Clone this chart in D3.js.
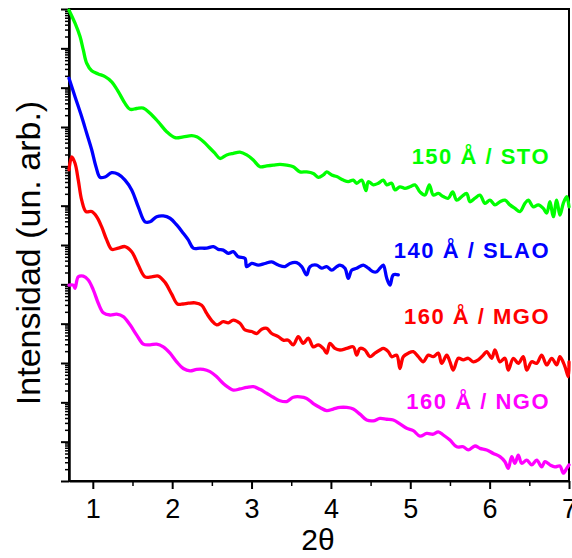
<!DOCTYPE html>
<html>
<head>
<meta charset="UTF-8" />
<title>XRR</title>
<style>
  body { margin: 0; background: #fff; }
  svg { display: block; font-family: Arial, "Liberation Sans", sans-serif; }
</style>
</head>
<body>
<svg width="572" height="558"></svg>
<script src="https://d3js.org/d3.v7.min.js"></script>
<script>
// each series: [2theta, log10(intensity)]
const sto = [[0.7,11.97],[0.776,11.64],[0.839,11.30],[0.880,10.96],[0.923,10.62],[0.986,10.43],[1.069,10.35],[1.154,10.28],[1.238,10.15],[1.321,9.90],[1.406,9.60],[1.469,9.45],[1.553,9.47],[1.636,9.48],[1.721,9.35],[1.825,9.13],[1.931,8.88],[2.036,8.73],[2.140,8.75],[2.246,8.78],[2.309,8.75],[2.392,8.63],[2.477,8.46],[2.540,8.33],[2.602,8.20],[2.687,8.29],[2.770,8.33],[2.854,8.36],[2.939,8.29],[3.022,8.16],[3.106,7.99],[3.191,8.01],[3.274,8.03],[3.358,8.05],[3.443,8.03],[3.526,7.99],[3.610,7.86],[3.695,7.86],[3.778,7.82],[3.841,7.72],[3.904,7.78],[3.947,7.86],[4.010,7.78],[4.073,7.74],[4.156,7.65],[4.219,7.61],[4.282,7.65],[4.325,7.57],[4.388,7.65],[4.442,7.38],[4.471,7.61],[4.534,7.53],[4.597,7.57],[4.660,7.65],[4.703,7.53],[4.766,7.57],[4.807,7.40],[4.870,7.48],[4.933,7.44],[4.996,7.48],[5.059,7.53],[5.122,7.35],[5.185,7.27],[5.240,7.53],[5.290,7.27],[5.353,7.31],[5.416,7.23],[5.479,7.19],[5.534,7.35],[5.585,7.14],[5.648,7.23],[5.711,7.31],[5.752,7.10],[5.815,7.19],[5.878,7.27],[5.941,7.06],[6.004,7.14],[6.067,7.02],[6.130,7.10],[6.193,7.14],[6.256,7.02],[6.319,6.93],[6.382,6.85],[6.445,7.06],[6.487,7.14],[6.550,6.97],[6.613,7.02],[6.676,6.93],[6.719,6.81],[6.760,7.10],[6.802,6.72],[6.845,7.14],[6.886,6.76],[6.928,7.06],[6.971,7.23],[7.0,6.97]];

const slao = [[0.7,10.24],[0.776,9.77],[0.860,9.26],[0.923,8.84],[0.986,8.42],[1.040,7.99],[1.091,7.72],[1.154,7.73],[1.238,7.84],[1.321,7.80],[1.406,7.65],[1.490,7.40],[1.573,6.97],[1.658,6.59],[1.721,6.59],[1.805,6.72],[1.888,6.74],[1.973,6.68],[2.057,6.51],[2.140,6.30],[2.203,6.13],[2.266,5.92],[2.350,5.92],[2.435,5.92],[2.518,5.96],[2.581,5.89],[2.644,5.87],[2.707,5.79],[2.770,5.83],[2.833,5.70],[2.917,5.66],[2.939,5.45],[3.002,5.53],[3.085,5.49],[3.169,5.53],[3.254,5.57],[3.337,5.49],[3.421,5.45],[3.484,5.53],[3.569,5.55],[3.632,5.45],[3.695,5.24],[3.736,5.45],[3.821,5.49],[3.884,5.41],[3.947,5.45],[4.010,5.36],[4.073,5.45],[4.114,5.49],[4.177,5.41],[4.219,5.15],[4.262,5.36],[4.325,5.41],[4.408,5.49],[4.471,5.41],[4.534,5.32],[4.577,5.32],[4.618,5.41],[4.660,5.49],[4.703,5.16],[4.744,4.98],[4.786,5.24],[4.849,5.24]];

const mgo = [[0.7,7.91],[0.734,8.24],[0.776,8.08],[0.817,7.65],[0.860,7.14],[0.914,6.85],[0.986,6.85],[1.049,6.72],[1.112,6.46],[1.175,6.13],[1.238,5.89],[1.321,5.92],[1.406,5.96],[1.490,5.83],[1.573,5.49],[1.658,5.19],[1.742,5.19],[1.825,5.21],[1.910,5.05],[1.994,4.75],[2.067,4.50],[2.136,4.50],[2.203,4.52],[2.288,4.53],[2.372,4.47],[2.435,4.26],[2.498,4.08],[2.561,3.97],[2.644,4.05],[2.707,4.02],[2.770,4.09],[2.854,4.01],[2.917,3.84],[3.002,3.80],[3.065,3.75],[3.128,3.86],[3.191,3.88],[3.254,3.75],[3.337,3.67],[3.400,3.58],[3.463,3.58],[3.526,3.46],[3.589,3.67],[3.652,3.50],[3.715,3.63],[3.778,3.41],[3.841,3.46],[3.904,3.37],[3.947,3.25],[3.988,3.50],[4.051,3.37],[4.114,3.33],[4.199,3.37],[4.282,3.41],[4.325,3.20],[4.366,3.37],[4.429,3.33],[4.492,3.16],[4.555,3.25],[4.618,3.33],[4.660,3.37],[4.723,3.29],[4.766,3.16],[4.829,3.20],[4.870,2.86],[4.912,3.16],[4.975,3.25],[5.038,3.29],[5.101,3.16],[5.164,3.03],[5.227,3.20],[5.290,3.16],[5.353,3.25],[5.396,2.99],[5.459,3.20],[5.500,3.03],[5.542,2.82],[5.605,3.12],[5.668,3.08],[5.731,3.12],[5.794,3.03],[5.857,3.08],[5.920,3.20],[5.963,3.29],[6.026,3.12],[6.067,3.33],[6.130,3.03],[6.193,3.12],[6.235,2.82],[6.298,3.12],[6.361,2.99],[6.424,3.16],[6.467,2.82],[6.530,3.03],[6.593,2.99],[6.656,3.20],[6.719,2.95],[6.782,3.12],[6.845,2.95],[6.886,3.16],[6.949,2.91],[6.991,2.65],[7.0,3.03]];

const ngo = [[0.7,4.98],[0.754,4.98],[0.776,4.90],[0.817,5.19],[0.880,5.21],[0.943,5.11],[1.006,4.86],[1.069,4.52],[1.132,4.28],[1.217,4.22],[1.301,4.24],[1.384,4.18],[1.469,3.97],[1.553,3.71],[1.636,3.48],[1.721,3.46],[1.805,3.48],[1.888,3.41],[1.973,3.25],[2.057,3.03],[2.140,2.86],[2.225,2.80],[2.309,2.84],[2.392,2.84],[2.477,2.78],[2.561,2.65],[2.644,2.48],[2.707,2.38],[2.770,2.31],[2.854,2.34],[2.939,2.38],[3.022,2.40],[3.106,2.33],[3.191,2.23],[3.274,2.13],[3.358,2.04],[3.443,2.02],[3.526,2.13],[3.610,2.14],[3.695,2.10],[3.778,1.97],[3.862,1.87],[3.947,1.79],[4.030,1.83],[4.114,1.87],[4.199,1.87],[4.282,1.83],[4.366,1.70],[4.451,1.55],[4.534,1.53],[4.618,1.59],[4.703,1.57],[4.786,1.55],[4.870,1.45],[4.955,1.34],[5.038,1.28],[5.122,1.14],[5.207,1.21],[5.290,1.19],[5.353,1.25],[5.416,1.17],[5.500,1.04],[5.585,0.87],[5.668,0.87],[5.731,0.79],[5.815,0.89],[5.878,0.83],[5.963,0.79],[6.046,0.70],[6.130,0.62],[6.193,0.49],[6.235,0.32],[6.278,0.62],[6.319,0.45],[6.361,0.66],[6.404,0.45],[6.467,0.53],[6.530,0.41],[6.593,0.53],[6.656,0.36],[6.697,0.49],[6.760,0.41],[6.823,0.36],[6.886,0.38],[6.928,0.20],[6.971,0.32],[7.0,0.41]];

const seriesNames = ["150 Å / STO", "140 Å / SLAO", "160 Å / MGO", "160 Å / NGO"];
const colours = ["#00ff00", "#0000ff", "#ff0000", "#ff00ff"];
const xMajor = [1, 2, 3, 4, 5, 6, 7];
const xMinor = [1.5, 2.5, 3.5, 4.5, 5.5, 6.5];

let svg = d3.select("svg");
let x = d3.scaleLinear().domain([0.7, 7]).range([69, 569]);
let y = d3.scaleLog().domain([1, 1e12]).range([481, 9]);

// log ticks: powers of ten long, the 2..9 ones short
let allY = y.ticks(20);
let isMajor = d => Math.abs(Math.log10(d) - Math.round(Math.log10(d))) < 1e-9;
let yMajor = allY.filter(isMajor);
let yMinor = allY.filter(d => !isMajor(d));

// frame
svg.append("rect")
  .attr("x", 69).attr("y", 9)
  .attr("width", 500).attr("height", 472)
  .attr("fill", "none").attr("stroke", "#000").attr("stroke-width", 2);

svg.append("g")
  .attr("transform", "translate(69,0)")
  .call(d3.axisLeft(y).tickValues(yMinor).tickSize(4).tickSizeOuter(0).tickFormat(""))
  .call(g => g.select(".domain").remove())
  .call(g => g.selectAll("line").attr("stroke-width", 1.5));

svg.append("g")
  .attr("transform", "translate(69,0)")
  .call(d3.axisLeft(y).tickValues(yMajor).tickSize(8).tickSizeOuter(0).tickFormat(""))
  .call(g => g.select(".domain").attr("stroke-width", 2.5))
  .call(g => g.selectAll("line").attr("stroke-width", 2));

svg.append("g")
  .attr("transform", "translate(0,481)")
  .call(d3.axisBottom(x).tickValues(xMinor).tickSize(5).tickSizeOuter(0).tickFormat(""))
  .call(g => g.select(".domain").remove())
  .call(g => g.selectAll("line").attr("stroke-width", 1.5));

svg.append("g")
  .attr("transform", "translate(0,481)")
  .call(d3.axisBottom(x).tickValues(xMajor).tickSize(8).tickSizeOuter(0).tickPadding(10).tickFormat(d3.format("d")))
  .call(g => g.select(".domain").attr("stroke-width", 2))
  .call(g => g.selectAll("line").attr("stroke-width", 2))
  .call(g => g.selectAll("text")
    .attr("font-size", 27)
    .attr("font-family", "Arial, 'Liberation Sans', sans-serif")
    .attr("fill", "#000"));

// curves
let line = d3.line()
  .curve(d3.curveCatmullRom.alpha(0.5))
  .x(d => x(d[0]))
  .y(d => y(Math.pow(10, d[1])));

[sto, slao, mgo, ngo].forEach((s, i) => {
  svg.append("path")
    .datum(s)
    .attr("d", line)
    .attr("fill", "none")
    .attr("stroke", colours[i])
    .attr("stroke-width", 3.3)
    .attr("stroke-linejoin", "round")
    .attr("stroke-linecap", "round");
});

// sample labels
let labelY = [164, 258, 324, 409];
svg.append("g")
  .selectAll("text")
  .data(seriesNames)
  .enter()
  .append("text")
  .attr("x", 550)
  .attr("y", (d, i) => labelY[i])
  .attr("text-anchor", "end")
  .attr("font-size", 22)
  .attr("font-weight", "bold")
  .attr("letter-spacing", 1.5)
  .attr("fill", (d, i) => colours[i])
  .text(d => d);

// axis titles
svg.append("text")
  .attr("transform", "translate(40,253) rotate(-90)")
  .attr("text-anchor", "middle")
  .attr("font-size", 34)
  .text("Intensidad (un. arb.)");

svg.append("text")
  .attr("x", 318)
  .attr("y", 550)
  .attr("text-anchor", "middle")
  .attr("font-size", 30)
  .text("2θ");
</script>
</body>
</html>
